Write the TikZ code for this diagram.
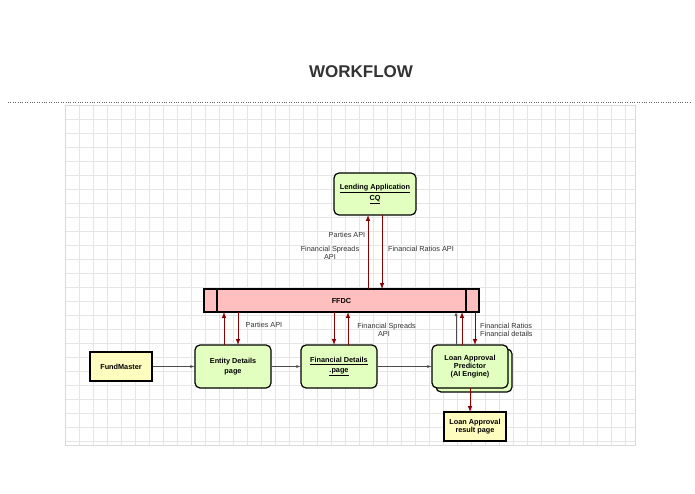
\documentclass[tikz,border=0pt]{standalone}
\usepackage{fontspec}
\setmainfont{Liberation Sans}
\begin{document}
\begin{tikzpicture}[x=1pt,y=-1pt,
  box/.style={draw=black,line width=1.2pt,rounded corners=5pt,align=center,font=\fontsize{7.3}{8.3}\selectfont\bfseries,inner sep=0pt},
  ybox/.style={draw=black,line width=1.2pt,fill=yellow!25,align=center,font=\fontsize{7.3}{8.3}\selectfont\bfseries,inner sep=0pt},
  red/.style={draw=red!55!black,line width=1pt,-{latex}},
  thin/.style={draw=black!70,line width=0.4pt,-{latex}},
  lbl/.style={font=\fontsize{7.3}{8}\selectfont,align=center,inner sep=0pt,text=black!80}]
\useasboundingbox (0,0) rectangle (695,494);
\fill[white] (0,0) rectangle (695,494);
\node[font=\fontsize{17}{20}\selectfont\bfseries,text=black!80] (title) at (361,72) {WORKFLOW};
\draw[dotted,black!60] (8,102) -- (692,102);
\foreach \x in {65,79,...,635} \draw[black!10] (\x,105) -- (\x,445);
\foreach \y in {105,119,...,445} \draw[black!10] (65,\y) -- (635,\y);
\draw[black!15] (65,105) rectangle (635,445);
\colorlet{gfill}{green!45!yellow!25}
\node[box,fill=gfill,minimum width=82,minimum height=42] (lend) at (375,194) {\underline{Lending Application}\\[1pt]\underline{CQ}};
\node[draw=black,line width=1.2pt,fill=red!25,minimum width=275,minimum height=23,inner sep=0pt,font=\fontsize{7.3}{8}\selectfont\bfseries] (ffdc) at (341.5,300.5) {FFDC};
\draw[line width=1.2pt] (217,289) -- (217,312) (466,289) -- (466,312);
\node[box,fill=gfill,minimum width=76,minimum height=43] (ent) at (233,366.5) {Entity Details\\[1pt]page};
\node[box,fill=gfill,minimum width=76,minimum height=43] (fin) at (339,366.5) {\underline{Financial Details}\\[1pt]\underline{.page}};
\node[box,fill=gfill,minimum width=76,minimum height=43] (shadow) at (474,370.5) {};
\node[box,fill=gfill,minimum width=76,minimum height=43] (loan) at (470,366.5) {Loan Approval\\Predictor\\(AI Engine)};
\node[ybox,minimum width=62,minimum height=29] (fm) at (121,366.5) {FundMaster};
\node[ybox,minimum width=62,minimum height=29] (res) at (475,426.5) {Loan Approval\\result page};
\draw[red] (368,289) -- (368,215);
\draw[red] (382,215) -- (382,289);
\draw[red] (224,345) -- (224,312);
\draw[red] (238,312) -- (238,345);
\draw[red] (334,312) -- (334,345);
\draw[red] (348,345) -- (348,312);
\draw[red] (462,345) -- (462,312);
\draw[red] (475,312) -- (475,345);
\draw[red] (470,388) -- (470,412);
\draw[thin] (456,345) -- (456,312);
\draw[thin] (fm) -- (ent);
\draw[thin] (ent) -- (fin);
\draw[thin] (fin) -- (loan);
\node[lbl] (l1) at (347,235) {Parties API};
\node[lbl] (l2) at (330,253) {Financial Spreads\\API};
\node[lbl] (l3) at (421,249) {Financial Ratios API};
\node[lbl] (l4) at (264,325) {Parties API};
\node[lbl,align=right,anchor=east] (l5) at (416,329.5) {Financial Spreads\\API\hspace*{26pt}};
\node[lbl,align=left,anchor=west] (l6) at (480,329.5) {Financial Ratios\\Financial details};
\end{tikzpicture}
\end{document}
